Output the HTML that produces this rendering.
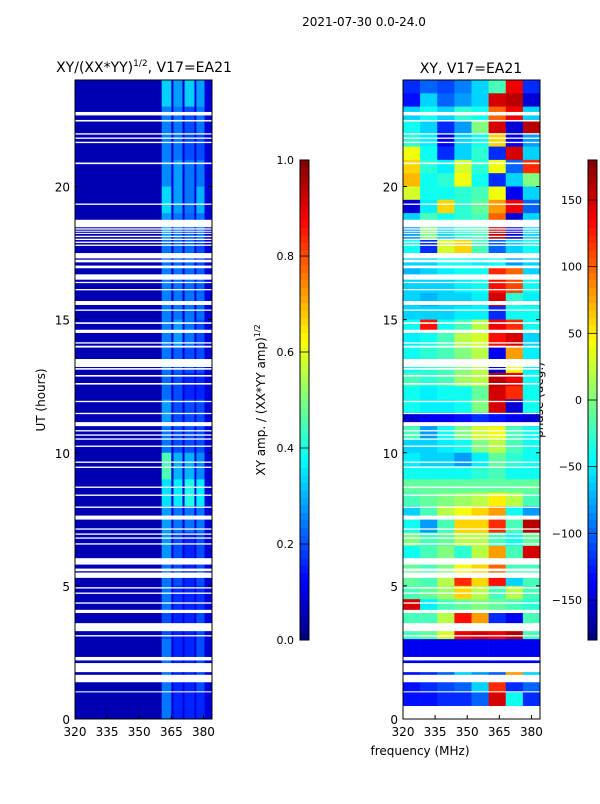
<!DOCTYPE html>
<html><head><meta charset="utf-8"><style>
body{margin:0;background:#fff;font-family:"DejaVu Sans","Liberation Sans",sans-serif}
svg text{font-family:"DejaVu Sans","Liberation Sans",sans-serif;fill:#000}
</style></head><body>
<svg id="fig" width="600" height="800" xmlns="http://www.w3.org/2000/svg">
<text x="364" y="26" font-size="12" text-anchor="middle">2021-07-30 0.0-24.0</text>
<text x="144" y="72" font-size="14" text-anchor="middle">XY/(XX*YY)<tspan font-size="9" dy="-6">1/2</tspan><tspan dy="6">, V17=EA21</tspan></text>
<text x="471" y="73" font-size="14" text-anchor="middle">XY, V17=EA21</text>
<text x="420" y="755" font-size="12" text-anchor="middle">frequency (MHz)</text>
<text transform="translate(45,400) rotate(-90)" font-size="12" text-anchor="middle">UT (hours)</text>
<text transform="translate(265,400) rotate(-90)" font-size="12" text-anchor="middle">XY amp. / (XX*YY amp)<tspan font-size="8" dy="-5">1/2</tspan></text>
<text transform="translate(543,400) rotate(-90)" font-size="12" text-anchor="middle">phase (deg.)</text>
<g id="L"></g>
<g id="R"></g>
<g id="ax"></g>
</svg>
<script>
// frequency bands for amp panel (MHz edges) and hourly band values (top row = 23-24h)
const ampBandEdges=[320,360.5,365,366,370.2,371.2,375.8,376.7,380.5,384];
const ampRows=[
[0.33,0.28,0.33,0.28],[0.25,0.24,0.2,0.24],[0.25,0.24,0.2,0.2],[0.26,0.28,0.24,0.24],
[0.34,0.28,0.24,0.3],[0.28,0.24,0.22,0.24],[0.24,0.23,0.23,0.2],[0.25,0.24,0.23,0.22],
[0.25,0.24,0.24,0.23],[0.25,0.28,0.24,0.2],[0.24,0.22,0.2,0.2],[0.23,0.2,0.16,0.16],
[0.28,0.2,0.2,0.2],[0.24,0.2,0.2,0.2],[0.45,0.3,0.3,0.26],[0.35,0.36,0.4,0.36],
[0.28,0.24,0.24,0.24],[0.27,0.2,0.16,0.2],[0.24,0.2,0.16,0.2],[0.24,0.17,0.16,0.17],
[0.2,0.16,0.16,0.2],[0.24,0.16,0.16,0.2],[0.24,0.16,0.16,0.2],[0.24,0.16,0.16,0.16]];
const ampBackground=0.05, ampGap=0.09;
// phase: 8 columns of 8 MHz, half-hour rows (top row = 23.5-24h)
const phaseRows=[
[-120,-100,-110,-90,-60,-20,140,-120],[-130,-60,-100,-80,-60,150,160,-150],
[-60,-40,-60,-30,-40,100,140,-60],[-40,-60,-120,-80,0,150,-150,160],
[-30,-50,-140,-60,-40,60,-140,-80],[40,-40,-120,-60,-30,-120,150,-60],
[60,-30,-50,30,-30,40,-100,120],[70,-40,-30,40,-40,-120,-60,0],
[30,-40,-40,-30,-20,40,-140,-60],[-150,-50,60,-30,-10,80,140,-100],
[-60,-20,-40,-30,-20,100,-150,-60],[-80,0,-60,-30,-20,160,-150,-60],
[-40,-120,30,60,-20,-100,-60,-40],[-60,-60,-40,-40,-50,-40,-80,-60],
[-70,-60,-50,-40,-40,120,100,-60],[-60,-60,-60,-50,-40,130,110,-40],
[-60,-70,-60,-60,-50,150,-30,-50],[-60,-60,-60,-50,-50,-120,-40,-40],
[-40,130,-40,-20,20,140,120,-40],[-50,-40,-20,20,30,130,150,-60],
[-40,-30,-20,0,20,-140,80,-50],[-40,-30,-20,0,20,-150,40,-50],
[-20,-30,-20,10,20,160,140,-40],[-40,-50,-40,-40,-10,150,120,-40],
[-40,-50,-50,-40,0,150,-150,-40],[-150,-140,-140,-130,-120,-130,-140,-150],
[-20,-80,-40,0,30,40,-20,-40],[-60,-60,-50,-40,0,20,-20,-40],
[-50,-60,-60,-80,-50,-10,-30,-40],[-40,-40,-40,-40,-30,-20,-40,-40],
[-10,-10,-10,-10,-10,-10,-10,-10],[-20,-10,0,10,20,50,20,-20],
[-60,-20,20,40,60,80,-40,-80],[-40,-80,-20,60,60,120,-20,160],
[0,-20,-10,20,20,-20,-40,-10],[-40,-20,0,-30,20,80,-20,150],
[-10,-20,0,40,60,100,-20,-20],[-10,-20,20,120,60,130,-60,-20],
[-20,-10,10,60,20,-20,20,-20],[150,-50,-20,-10,0,-10,-20,-30],
[-20,-20,20,130,80,-120,-140,-20],[-20,-10,30,140,150,140,160,-20],
[-140,-140,-140,-140,-140,-140,-140,-140],[-140,-140,-140,-140,-140,-140,-140,-140],
[-130,-120,-100,-60,-80,-100,80,-60],[-130,-120,-110,-100,-60,120,-120,-100],
[-130,-130,-120,-120,-100,150,-40,-120]];
const phaseEdges=[320,328,336,344,352,360,368,376,384];
// flagged (blank) time intervals in hours
const gaps=[[22.67,22.8],[22.44,22.5],[21.95,22.0],[21.79,21.84],[21.63,21.68],[20.84,20.9],[19.31,19.36],
[18.47,18.75],[18.38,18.43],[18.3,18.34],[18.22,18.26],[18.1,18.15],[17.99,18.04],[17.88,17.93],[17.77,17.82],
[17.3,17.5],[17.15,17.25],[16.93,17.03],[16.5,16.7],[16.37,16.42],[16.1,16.15],[15.55,15.7],[15.33,15.38],
[14.84,14.9],[14.5,14.62],[14.1,14.15],[13.95,14.02],[13.22,13.52],[13.12,13.18],[12.86,12.92],[12.56,12.62],
[11.9,11.95],[11.45,11.5],[11.0,11.15],[10.8,10.85],[10.64,10.69],[10.49,10.54],[10.22,10.27],[9.62,9.67],
[9.43,9.48],[8.68,8.73],[8.38,8.43],[7.93,7.98],[7.49,7.64],[7.11,7.16],[6.92,6.97],[6.77,6.82],[6.55,6.6],
[5.8,6.04],[5.55,5.65],[5.3,5.5],[4.9,4.95],[4.7,4.75],[4.33,4.38],[3.98,4.1],[3.3,3.6],[3.1,3.15],
[2.2,2.33],[1.76,2.1],[1.38,1.66],[1.0,1.04]];
const ampTicksX=[320,335,350,365,380], timeTicks=[0,5,10,15,20];
const ampCbTicks=[0,0.2,0.4,0.6,0.8,1.0], phaseCbTicks=[-150,-100,-50,0,50,100,150];

const NS="http://www.w3.org/2000/svg";
function jet(v){v=Math.max(0,Math.min(1,v));
 const r=Math.max(0,Math.min(1,Math.min(4*v-1.5,-4*v+4.5)));
 const g=Math.max(0,Math.min(1,Math.min(4*v-0.5,-4*v+3.5)));
 const b=Math.max(0,Math.min(1,Math.min(4*v+0.5,-4*v+2.5)));
 return `rgb(${Math.round(r*255)},${Math.round(g*255)},${Math.round(b*255)})`;}
function mk(p,tag,a){const e=document.createElementNS(NS,tag);for(const k in a)e.setAttribute(k,a[k]);p.appendChild(e);return e;}
const Y0=719,Y1=80;
const yT=t=>Y0-(t/24)*(Y0-Y1);
function xF(x0,x1){return f=>x0+(f-320)/(384-320)*(x1-x0);}
const xL=xF(75,212), xR=xF(403,540);
const L=document.getElementById('L'), R=document.getElementById('R'), AX=document.getElementById('ax');
ampRows.forEach((row,i)=>{const t1=24-i,t0=23-i;
 for(let b=0;b<ampBandEdges.length-1;b++){
  let v; if(b===0)v=ampBackground; else if(b%2===1)v=row[(b-1)/2]; else v=ampGap;
  if(b===ampBandEdges.length-2)v=ampGap;
  const r=mk(L,'rect',{x:xL(ampBandEdges[b]),y:yT(t1),width:xL(ampBandEdges[b+1])-xL(ampBandEdges[b])+0.3,height:yT(t0)-yT(t1)+0.3,fill:jet(v)});
  
  
 }});
phaseRows.forEach((row,i)=>{const t1=24-i*0.5,t0=t1-0.5;
 row.forEach((v,c)=>{
  const r=mk(R,'rect',{x:xR(phaseEdges[c]),y:yT(t1),width:xR(phaseEdges[c+1])-xR(phaseEdges[c])+0.3,height:yT(t0)-yT(t1)+0.3,fill:jet((v+180)/360)});
  
  
 });});
gaps.forEach(g=>{[[75,212],[403,540]].forEach(([a,b])=>{
 const r=mk(AX,'rect',{x:a,y:yT(g[1]),width:b-a,height:yT(g[0])-yT(g[1]),fill:'#fff'});
 
 
});});
[[75,212,xL],[403,540,xR]].forEach(([a,b,xs])=>{
 const fr=mk(AX,'rect',{x:a,y:Y1,width:b-a,height:Y0-Y1,fill:'none',stroke:'#000','stroke-width':1});
 
 
 ampTicksX.forEach(f=>{const x=xs(f);
  mk(AX,'line',{x1:x,x2:x,y1:Y0,y2:Y0-4,stroke:'#000'});
  const t=mk(AX,'text',{x:x,y:Y0+17,'font-size':12,'text-anchor':'middle'});t.textContent=f;
  
  });
 timeTicks.forEach(v=>{const y=yT(v);
  mk(AX,'line',{x1:a,x2:a+4,y1:y,y2:y,stroke:'#000'});
  mk(AX,'line',{x1:b,x2:b-4,y1:y,y2:y,stroke:'#000'});
  const t=mk(AX,'text',{x:a-5,y:y+5,'font-size':12,'text-anchor':'end'});t.textContent=v;
  
  });
});
function cbar(x,ticks,lo,hi,fmt,name){
 const g=mk(AX,'g',{});
 
 
 const top=160,bot=640,n=64;
 for(let i=0;i<n;i++){mk(g,'rect',{x:x,y:bot-(i+1)*(bot-top)/n,width:9,height:(bot-top)/n+0.5,fill:jet((i+0.5)/n)});}
 mk(g,'rect',{x:x,y:top,width:9,height:bot-top,fill:'none',stroke:'#000'});
 ticks.forEach(v=>{const y=bot-(v-lo)/(hi-lo)*(bot-top);
  mk(g,'line',{x1:x,x2:x+9,y1:y,y2:y,stroke:'#000','stroke-width':0.8});
  const t=mk(g,'text',{x:x-6,y:y+4,'font-size':11,'text-anchor':'end'});t.textContent=fmt(v);
  
  });
}
cbar(300,ampCbTicks,0,1,v=>v.toFixed(1),'amp-colorbar');
cbar(588,phaseCbTicks,-180,180,v=>v<0?'\u2212'+(-v):String(v),'phase-colorbar');
</script>
</body></html>
